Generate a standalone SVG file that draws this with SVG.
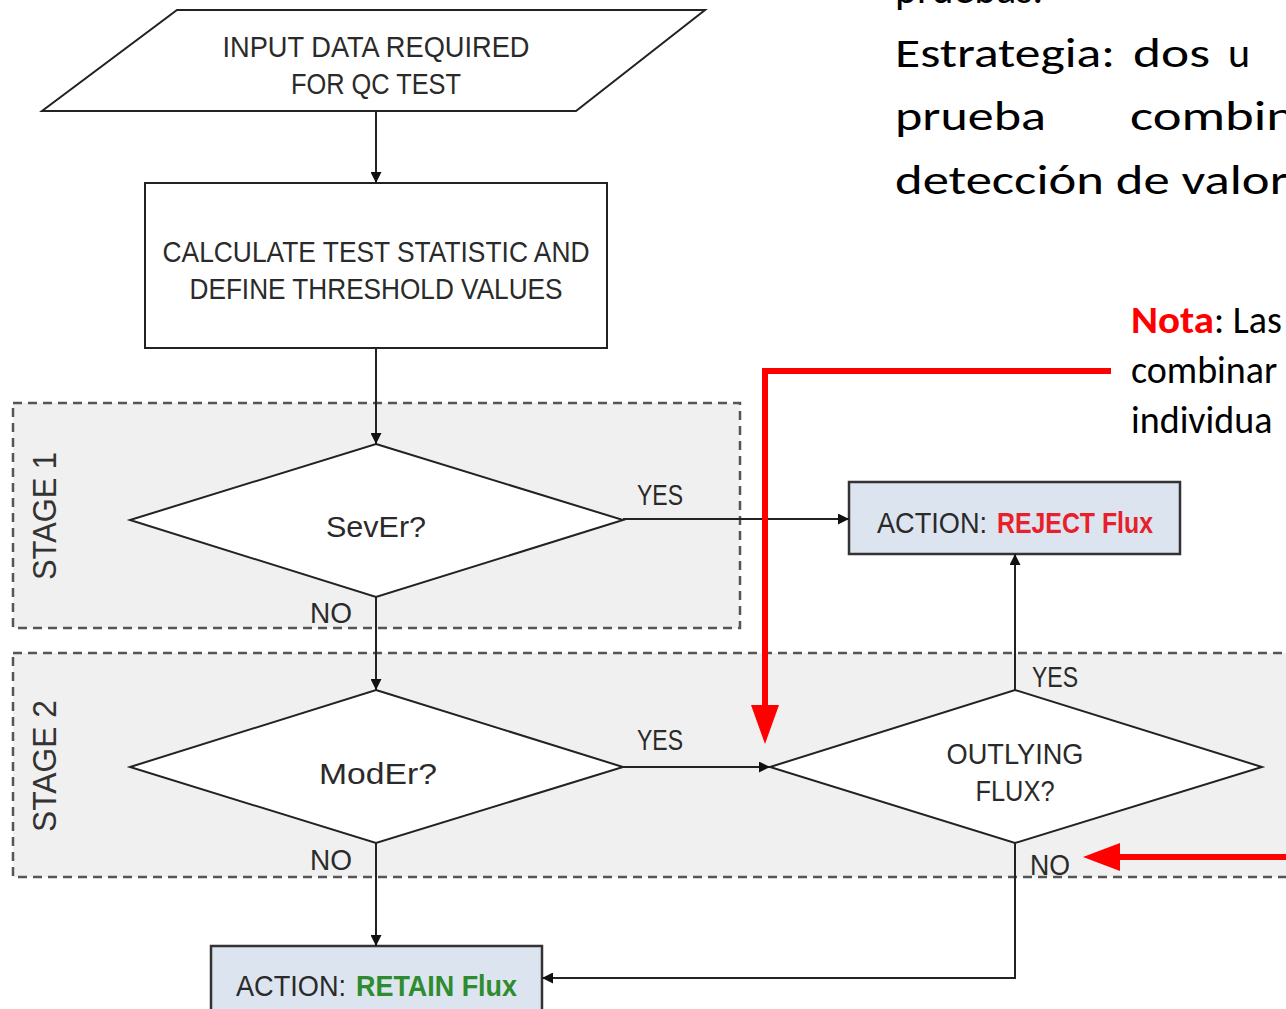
<svg xmlns="http://www.w3.org/2000/svg" width="1286" height="1009" viewBox="0 0 1286 1009">
<style>
.t{font-family:"Liberation Sans Narrow","Liberation Sans",Arial,sans-serif;font-size:30px;fill:#2a2a2a;text-anchor:middle}
.ts{font-family:"Liberation Sans Narrow","Liberation Sans",Arial,sans-serif;font-size:30px;fill:#2a2a2a}
.lbl{font-family:"Liberation Sans Narrow","Liberation Sans",Arial,sans-serif;font-size:29px;fill:#2a2a2a}
.stage{font-family:"Liberation Sans",Arial,sans-serif;font-size:33px;fill:#333;text-anchor:middle}
.shape{fill:#fff;stroke:#222;stroke-width:2}
.action{fill:#dbe4ef;stroke:#333;stroke-width:2.5}
.zone{fill:#f0f0f0;stroke:#555;stroke-width:2.5;stroke-dasharray:9 6}
.conn{fill:none;stroke:#222;stroke-width:2}
.red{fill:none;stroke:#ff0000;stroke-width:6}
.es{font-family:"Carlito","Liberation Sans",Arial,sans-serif;font-size:42px;fill:#000}
.nota{font-family:"Carlito","Liberation Sans",Arial,sans-serif;font-size:38px;fill:#000}
</style>
<defs>
<marker id="ah" viewBox="0 0 10 10" refX="10" refY="5" markerWidth="11" markerHeight="11" markerUnits="userSpaceOnUse" orient="auto">
<path d="M0,0 L10,5 L0,10 z" fill="#111"/>
</marker>
</defs>

<g id="zones">
<rect class="zone" x="13" y="403" width="727" height="225"/>
<rect class="zone" x="13" y="653" width="1290" height="224"/>
<text class="stage" transform="translate(56,516) rotate(-90)" textLength="128" lengthAdjust="spacingAndGlyphs">STAGE 1</text>
<text class="stage" transform="translate(56,766) rotate(-90)" textLength="132" lengthAdjust="spacingAndGlyphs">STAGE 2</text>
</g>

<g id="input">
<polygon class="shape" points="177,10 705,10 576,111 42,111"/>
<text class="t" x="376" y="57" textLength="307" lengthAdjust="spacingAndGlyphs">INPUT DATA REQUIRED</text>
<text class="t" x="376" y="94" textLength="170" lengthAdjust="spacingAndGlyphs">FOR QC TEST</text>
</g>

<g id="calc">
<rect class="shape" x="145" y="183" width="462" height="165"/>
<text class="t" x="376" y="262" textLength="427" lengthAdjust="spacingAndGlyphs">CALCULATE TEST STATISTIC AND</text>
<text class="t" x="376" y="299" textLength="373" lengthAdjust="spacingAndGlyphs">DEFINE THRESHOLD VALUES</text>
</g>

<g id="sever">
<polygon class="shape" points="376,444 623,520 376,597 130,520"/>
<text class="t" x="376" y="537" textLength="100" lengthAdjust="spacingAndGlyphs">SevEr?</text>
</g>

<g id="moder">
<polygon class="shape" points="376,690 623,767 376,843 130,767"/>
<text class="t" x="378" y="784" textLength="118" lengthAdjust="spacingAndGlyphs">ModEr?</text>
</g>

<g id="outlying">
<polygon class="shape" points="1015,690 1262,767 1015,843 770,767"/>
<text class="t" x="1015" y="764" textLength="137" lengthAdjust="spacingAndGlyphs">OUTLYING</text>
<text class="t" x="1015" y="801" textLength="79" lengthAdjust="spacingAndGlyphs">FLUX?</text>
</g>

<g id="reject">
<rect class="action" x="849" y="482" width="331" height="72"/>
<text class="ts" x="877" y="533" textLength="110" lengthAdjust="spacingAndGlyphs">ACTION:</text>
<text class="ts" x="997" y="533" textLength="156" lengthAdjust="spacingAndGlyphs" fill="#e8202a" font-weight="bold" style="fill:#e8202a">REJECT Flux</text>
</g>

<g id="retain">
<rect class="action" x="211" y="946" width="331" height="80"/>
<text class="ts" x="236" y="996" textLength="110" lengthAdjust="spacingAndGlyphs">ACTION:</text>
<text class="ts" x="356" y="996" textLength="161" lengthAdjust="spacingAndGlyphs" font-weight="bold" style="fill:#2e8b2e">RETAIN Flux</text>
</g>

<g id="connectors">
<line class="conn" x1="376" y1="111" x2="376" y2="183" marker-end="url(#ah)"/>
<line class="conn" x1="376" y1="348" x2="376" y2="444" marker-end="url(#ah)"/>
<line class="conn" x1="623" y1="519" x2="849" y2="519" marker-end="url(#ah)"/>
<line class="conn" x1="376" y1="597" x2="376" y2="690" marker-end="url(#ah)"/>
<line class="conn" x1="623" y1="767" x2="770" y2="767" marker-end="url(#ah)"/>
<line class="conn" x1="1015" y1="690" x2="1015" y2="554" marker-end="url(#ah)"/>
<line class="conn" x1="376" y1="843" x2="376" y2="946" marker-end="url(#ah)"/>
<polyline class="conn" points="1015,843 1015,978 542,978" marker-end="url(#ah)"/>
<text class="lbl" x="637" y="505" textLength="46" lengthAdjust="spacingAndGlyphs">YES</text>
<text class="lbl" x="310" y="623" textLength="42" lengthAdjust="spacingAndGlyphs">NO</text>
<text class="lbl" x="637" y="750" textLength="46" lengthAdjust="spacingAndGlyphs">YES</text>
<text class="lbl" x="310" y="870" textLength="42" lengthAdjust="spacingAndGlyphs">NO</text>
<text class="lbl" x="1032" y="687" textLength="46" lengthAdjust="spacingAndGlyphs">YES</text>
<text class="lbl" x="1030" y="875" textLength="40" lengthAdjust="spacingAndGlyphs">NO</text>
</g>

<g id="annotation">
<polyline class="red" points="1111,371 765,371 765,706"/>
<polygon points="751,705 779,705 765,744" fill="#ff0000"/>
<line class="red" x1="1290" y1="857" x2="1118" y2="857"/>
<polygon points="1120,843 1120,871 1083,857" fill="#ff0000"/>
<text class="es" x="895" y="3" textLength="148" lengthAdjust="spacingAndGlyphs">pruebas.</text>
<text class="es" x="895" y="67" textLength="220" lengthAdjust="spacingAndGlyphs">Estrategia:</text>
<text class="es" x="1133" y="67" textLength="77" lengthAdjust="spacingAndGlyphs">dos</text>
<text class="es" x="1228" y="67">u</text>
<text class="es" x="895" y="130" textLength="151" lengthAdjust="spacingAndGlyphs">prueba</text>
<text class="es" x="1130" y="130" textLength="165" lengthAdjust="spacingAndGlyphs">combin</text>
<text class="es" x="895" y="194" textLength="393" lengthAdjust="spacingAndGlyphs">detección de valor</text>
<text class="nota" x="1131" y="333" font-weight="bold" style="fill:#ff0000" textLength="83" lengthAdjust="spacingAndGlyphs">Nota</text>
<text class="nota" x="1214" y="333">: Las</text>
<text class="nota" x="1131" y="383">combinar</text>
<text class="nota" x="1131" y="433">individua</text>
</g>
</svg>
